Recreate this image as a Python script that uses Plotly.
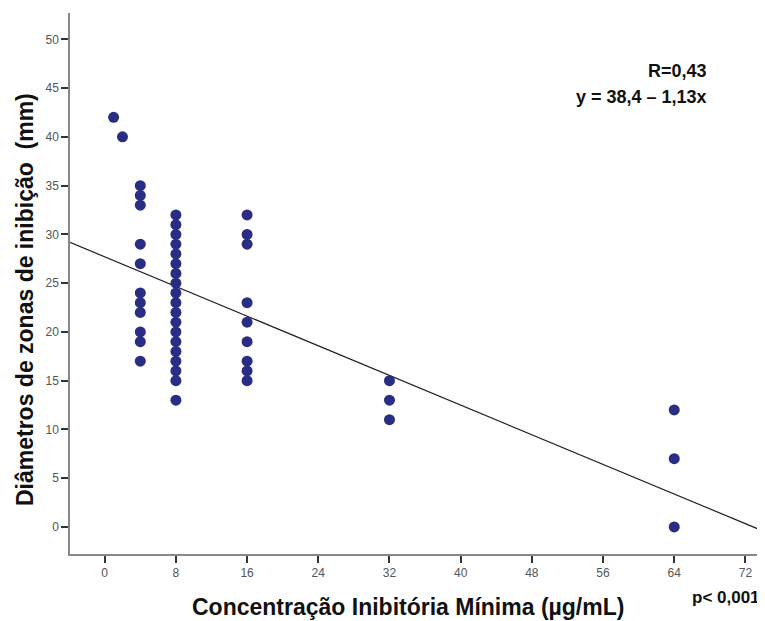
import plotly.graph_objects as go

# MIC values (µg/mL) and inhibition zone diameters (mm)
mic_values = [1, 2,
              4, 4, 4, 4, 4, 4, 4, 4, 4, 4, 4,
              8, 8, 8, 8, 8, 8, 8, 8, 8, 8, 8, 8, 8, 8, 8, 8, 8, 8, 8,
              16, 16, 16, 16, 16, 16, 16, 16, 16,
              32, 32, 32,
              64, 64, 64]
diameters = [42, 40,
             35, 34, 33, 29, 27, 24, 23, 22, 20, 19, 17,
             32, 31, 30, 29, 28, 27, 26, 25, 24, 23, 22, 21, 20, 19, 18, 17, 16, 15, 13,
             32, 30, 29, 23, 21, 19, 17, 16, 15,
             15, 13, 11,
             12, 7, 0]

x_ticks = [0, 8, 16, 24, 32, 40, 48, 56, 64, 72]
y_ticks = [0, 5, 10, 15, 20, 25, 30, 35, 40, 45, 50]

fit_intercept = 27.7
fit_slope = -0.38

x_range = [-3.9, 74.2]
y_range = [-2.77, 52.7]

line_x = x_range
line_y = [fit_intercept + fit_slope * v for v in line_x]

fig = go.Figure()
fig.add_trace(go.Scatter(x=line_x, y=line_y, mode="lines",
                         line=dict(color="#222222", width=1.2),
                         hoverinfo="skip", showlegend=False))
fig.add_trace(go.Scatter(x=mic_values, y=diameters, mode="markers",
                         marker=dict(color="#2a2d84", size=11, line=dict(width=0)),
                         showlegend=False))

BOLD = "Liberation Sans, Arial, sans-serif"

fig.update_layout(
    width=757, height=613,
    margin=dict(l=62, r=0, t=5, b=67),
    paper_bgcolor="white", plot_bgcolor="white",
    font=dict(family="Liberation Sans, Arial, sans-serif"),
    xaxis=dict(range=x_range, tickvals=x_ticks, ticks="outside", ticklen=7,
               tickcolor="#333333", tickwidth=1.5, showgrid=False, zeroline=False,
               showline=True, linecolor="#888888", linewidth=1.5,
               tickfont=dict(size=12, color="#555555")),
    yaxis=dict(range=y_range, tickvals=y_ticks, ticks="outside", ticklen=7,
               tickcolor="#333333", tickwidth=1.5, showgrid=False, zeroline=False,
               showline=True, linecolor="#888888", linewidth=1.5,
               tickfont=dict(size=12, color="#555555")),
    annotations=[
        dict(text="<b>Diâmetros de zonas de inibição  (mm)</b>", xref="paper", yref="paper",
             x=-0.0647, y=0.4695, textangle=-90, showarrow=False,
             font=dict(size=23, color="#111111", family=BOLD), xanchor="center", yanchor="middle"),
        dict(text="<b>Concentração Inibitória Mínima (µg/mL)</b>", xref="paper", yref="paper",
             x=0.486, y=-0.098, showarrow=False,
             font=dict(size=23, color="#111111", family=BOLD), xanchor="center", yanchor="middle"),
        dict(text="<b>p< 0,001</b>", xref="paper", yref="paper",
             x=0.996, y=-0.0795, showarrow=False,
             font=dict(size=17, color="#111111", family=BOLD), xanchor="right", yanchor="middle"),
        dict(text="<b>R=0,43</b>", xref="paper", yref="paper",
             x=0.919, y=0.893, showarrow=False,
             font=dict(size=18, color="#111111", family=BOLD), xanchor="right", yanchor="middle"),
        dict(text="<b>y = 38,4 – 1,13x</b>", xref="paper", yref="paper",
             x=0.919, y=0.845, showarrow=False,
             font=dict(size=18, color="#111111", family=BOLD), xanchor="right", yanchor="middle"),
    ],
)

fig.write_html("out.html")
